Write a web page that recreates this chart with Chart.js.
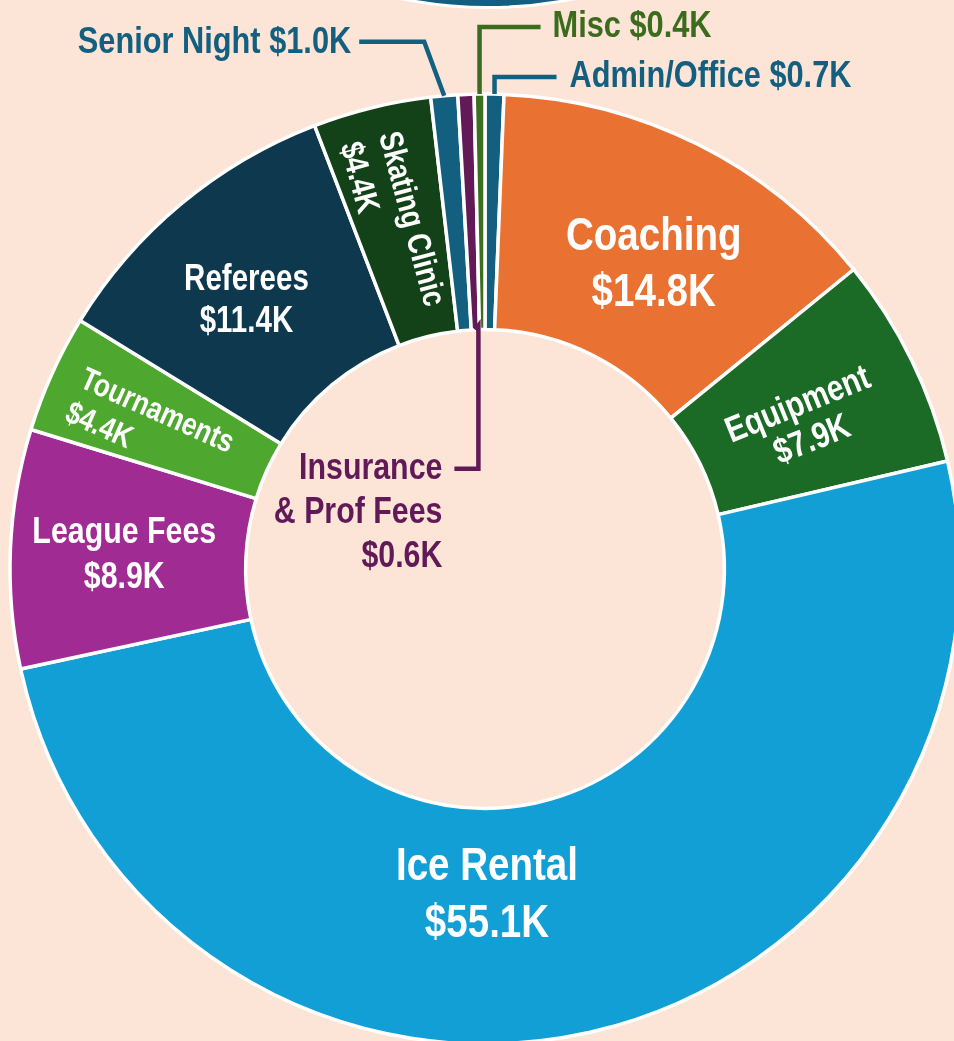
<!DOCTYPE html>
<html>
<head>
<meta charset="utf-8">
<script src="https://cdn.jsdelivr.net/npm/chart.js@4.4.0/dist/chart.umd.min.js"></script>
<style>
    html, body {
        margin: 0;
        padding: 0;
        width: 954px;
        height: 1041px;
        overflow: hidden;
        background: #fce4d6;
    }
    #topBadge {
        position: absolute;
        left: 55px;
        top: -857px;
        width: 860px;
        height: 860px;
        border-radius: 50%;
        background: #135f82;
        border: 3px solid #ffffff;
    }
    #chartBox {
        position: absolute;
        left: -15px;
        top: 0;
        width: 1000px;
        height: 1138px;
    }
</style>
</head>
<body>
<div id="topBadge"></div>
<div id="chartBox"><canvas id="budgetChart" width="1000" height="1138"></canvas></div>
<script>
const categories = ["Admin/Office", "Coaching", "Equipment", "Ice Rental", "League Fees", "Tournaments",
    "Referees", "Skating Clinic", "Senior Night", "Insurance & Prof Fees", "Misc"];
const amounts = [0.7, 14.8, 7.9, 55.1, 8.9, 4.4, 11.4, 4.4, 1.0, 0.6, 0.4];
const sliceColors = ["#125f80", "#e97132", "#1b6a25", "#129fd6", "#a02b93", "#4ea72e",
    "#0e384d", "#134118", "#125f80", "#611a57", "#3b6e1f"];

const FONT = "'Liberation Sans', Arial, sans-serif";
const NARROW = 0.82;

function money(v) {
    return "$" + v.toFixed(1) + "K";
}

// labels drawn inside the ring (anchor is polar: degrees off slice middle, radius px)
const insideLabels = {
    "Coaching":       { lines: ["Coaching"],       da: 2.4,  r: 348, size: 47, lh: 56, rot: 0,   align: "center" },
    "Equipment":      { lines: ["Equipment"],      da: 1.6,  r: 352, size: 36, lh: 38, rot: -22, align: "center" },
    "Ice Rental":     { lines: ["Ice Rental"],     da: 12.3, r: 327, size: 47, lh: 57, rot: 0,   align: "center" },
    "League Fees":    { lines: ["League Fees"],    da: -0.3, r: 361, size: 37, lh: 45, rot: 0,   align: "center" },
    "Tournaments":    { lines: ["Tournaments"],    da: 1.0,  r: 446, size: 32, lh: 37, rot: 24,  align: "left" },
    "Referees":       { lines: ["Referees"],       da: -1.9, r: 359, size: 36, lh: 42, rot: 0,   align: "center" },
    "Skating Clinic": { lines: ["Skating Clinic"], da: 1.2,  r: 447, size: 33, lh: 40, rot: 75,  align: "left" }
};

// small slices get a leader line; offsets are relative to the slice edge point
const callouts = {
    "Senior Night": { edge: "outer", color: "#125f80", path: [[-20, -54], [-85, -54]], text: [-93, -53],
        align: "right", lines: ["Senior Night $1.0K"], size: 37.5, lh: 40 },
    "Misc": { edge: "outer", color: "#3b6b1c", path: [[0, -67], [61, -67]], text: [73, -67],
        align: "left", lines: ["Misc $0.4K"], size: 37.5, lh: 40 },
    "Admin/Office": { edge: "outer", color: "#125f80", path: [[0, -17], [62, -17]], text: [75, -17],
        align: "left", lines: ["Admin/Office $0.7K"], size: 37.5, lh: 40 },
    "Insurance & Prof Fees": { edge: "inner", color: "#611a57", path: [[3, -4], [3, 139], [-21, 139]], text: [-33, 139],
        align: "right", lines: ["Insurance", "& Prof Fees", "$0.6K"], size: 37, lh: 44 }
};

function drawNarrow(ctx, str, x, y, align) {
    ctx.save();
    ctx.translate(x, y);
    ctx.scale(NARROW, 1);
    ctx.textAlign = align;
    ctx.textBaseline = "middle";
    ctx.fillText(str, 0, 0);
    ctx.restore();
}

const labelPlugin = {
    id: "sliceLabels",
    afterDatasetsDraw(chart) {
        const ctx = chart.ctx;
        const meta = chart.getDatasetMeta(0);
        meta.data.forEach((arc, i) => {
            const p = arc.getProps(["x", "y", "startAngle", "endAngle", "innerRadius", "outerRadius"], true);
            const mid = (p.startAngle + p.endAngle) / 2;
            const name = categories[i];

            const lab = insideLabels[name];
            if (lab) {
                const a = mid + lab.da * Math.PI / 180;
                const ax = p.x + lab.r * Math.cos(a);
                const ay = p.y + lab.r * Math.sin(a);
                const lines = lab.lines.concat([money(amounts[i])]);
                ctx.save();
                ctx.translate(ax, ay);
                ctx.rotate(lab.rot * Math.PI / 180);
                ctx.fillStyle = "#ffffff";
                ctx.font = "bold " + lab.size + "px " + FONT;
                lines.forEach((t, k) => {
                    const yy = lab.align === "center" ? (k - (lines.length - 1) / 2) * lab.lh : k * lab.lh;
                    drawNarrow(ctx, t, 0, yy, lab.align);
                });
                ctx.restore();
            }

            const co = callouts[name];
            if (co) {
                const r = co.edge === "outer" ? p.outerRadius : p.innerRadius;
                const ex = p.x + r * Math.cos(mid);
                const ey = p.y + r * Math.sin(mid);
                ctx.save();
                ctx.strokeStyle = co.color;
                ctx.lineWidth = 4.5;
                ctx.beginPath();
                ctx.moveTo(ex, ey);
                co.path.forEach(pt => ctx.lineTo(ex + pt[0], ey + pt[1]));
                ctx.stroke();
                ctx.fillStyle = co.color;
                ctx.font = "bold " + co.size + "px " + FONT;
                co.lines.forEach((t, k) => {
                    drawNarrow(ctx, t, ex + co.text[0], ey + co.text[1] + k * co.lh, co.align);
                });
                ctx.restore();
            }
        });
    }
};

new Chart(document.getElementById("budgetChart"), {
    type: "doughnut",
    data: {
        labels: categories,
        datasets: [{
            data: amounts,
            backgroundColor: sliceColors,
            borderColor: "#ffffff",
            borderWidth: 3.5
        }]
    },
    options: {
        responsive: false,
        devicePixelRatio: 1,
        animation: false,
        radius: 475,
        cutout: "50.4%",
        rotation: 0,
        layout: { padding: 0 },
        plugins: {
            legend: { display: false },
            tooltip: { enabled: false }
        }
    },
    plugins: [labelPlugin]
});
</script>
</body>
</html>
